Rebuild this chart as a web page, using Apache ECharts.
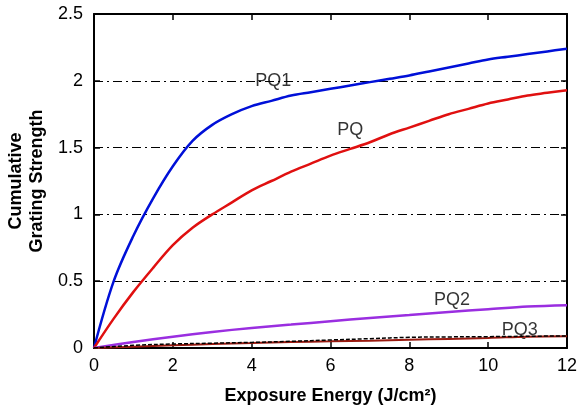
<!DOCTYPE html>
<html>
<head>
<meta charset="utf-8">
<script src="https://cdn.jsdelivr.net/npm/echarts@6/dist/echarts.min.js"></script>
<style>
  html, body { margin: 0; padding: 0; background: #fff; }
  #chart { width: 577px; height: 411px; }
</style>
</head>
<body>
<div id="chart"></div>
<script>
// exposure energy (J/cm2), read every 0.5 for the two steep curves
const xHalf = [0, 0.5, 1, 1.5, 2, 2.5, 3, 3.5, 4, 4.5, 5, 5.5, 6, 6.5, 7, 7.5, 8, 8.5, 9, 9.5, 10, 10.5, 11, 11.5, 12]
const yPQ1 = [0, 0.5, 0.84, 1.12, 1.36, 1.55, 1.67, 1.75, 1.81, 1.85, 1.89, 1.915, 1.94, 1.965, 1.99, 2.015, 2.04, 2.07, 2.1, 2.13, 2.16, 2.18, 2.2, 2.22, 2.24]
const yPQ = [0, 0.22, 0.42, 0.6, 0.77, 0.9, 1.0, 1.09, 1.18, 1.25, 1.32, 1.38, 1.44, 1.49, 1.54, 1.6, 1.65, 1.7, 1.75, 1.79, 1.83, 1.86, 1.89, 1.91, 1.93]

const xWhole = [0, 1, 2, 3, 4, 5, 6, 7, 8, 9, 10, 11, 12]
const yPQ2 = [0, 0.045, 0.085, 0.12, 0.15, 0.175, 0.2, 0.225, 0.247, 0.27, 0.29, 0.31, 0.32]
const yPQ3 = [0, 0.01, 0.02, 0.03, 0.037, 0.045, 0.05, 0.055, 0.062, 0.068, 0.075, 0.085, 0.088]
const yPQ3b = [0, 0.02, 0.03, 0.036, 0.042, 0.05, 0.06, 0.07, 0.08, 0.083, 0.085, 0.088, 0.09]

const labels = [
  { name: 'PQ1', x: 4.55, y: 2.0 },
  { name: 'PQ', x: 6.5, y: 1.63 },
  { name: 'PQ2', x: 9.08, y: 0.36 },
  { name: 'PQ3', x: 10.8, y: 0.135 }
]

const pairs = (xs, ys) => xs.map((x, i) => [x, ys[i]])
const font = 'Liberation Sans, Arial, sans-serif'

const frameAxis = {
  axisLine: { show: true, onZero: false, lineStyle: { color: '#000', width: 2 } },
  axisTick: { show: true, inside: true, length: 6, lineStyle: { color: '#000', width: 1.5 } }
}

const curve = (name, xs, ys, lineStyle) => ({
  name, type: 'line', smooth: 0.35, showSymbol: false,
  lineStyle, data: pairs(xs, ys)
})

const chart = echarts.init(document.getElementById('chart'))
chart.setOption({
  animation: false,
  grid: { left: 94, right: 10, top: 14, bottom: 63, outerBoundsMode: 'none', containLabel: false },
  xAxis: [
    Object.assign({
      type: 'value', min: 0, max: 12, interval: 2,
      name: 'Exposure Energy (J/cm²)', nameLocation: 'middle', nameGap: 39,
      nameTextStyle: { fontFamily: font, fontSize: 18, fontWeight: 'bold', color: '#000' },
      axisLabel: { fontFamily: font, fontSize: 18, color: '#000', margin: 9 },
      splitLine: { show: false }
    }, frameAxis),
    Object.assign({
      type: 'value', min: 0, max: 12, interval: 2, position: 'top',
      axisLabel: { show: false },
      splitLine: { show: false }
    }, frameAxis)
  ],
  yAxis: [
    Object.assign({
      type: 'value', min: 0, max: 2.5, interval: 0.5,
      name: 'Cumulative\nGrating Strength', nameLocation: 'middle', nameGap: 45,
      nameTextStyle: { fontFamily: font, fontSize: 18, fontWeight: 'bold', color: '#000', lineHeight: 21 },
      axisLabel: { fontFamily: font, fontSize: 18, color: '#000', margin: 11 },
      splitLine: { lineStyle: { color: '#000', width: 1, type: [9, 4, 2, 4] } }
    }, frameAxis),
    Object.assign({
      type: 'value', min: 0, max: 2.5, interval: 0.5, position: 'right',
      axisLabel: { show: false },
      splitLine: { show: false }
    }, frameAxis)
  ],
  series: [
    curve('PQ1', xHalf, yPQ1, { color: '#0010d8', width: 2.5 }),
    curve('PQ', xHalf, yPQ, { color: '#e01010', width: 2.5 }),
    curve('PQ2', xWhole, yPQ2, { color: '#9a2ee0', width: 2.5 }),
    curve('PQ3', xWhole, yPQ3, { color: '#9a1a10', width: 2 }),
    curve('PQ3b', xWhole, yPQ3b, { color: '#000', width: 1.5, type: [4, 2] }),
    {
      name: 'labels', type: 'scatter', symbolSize: 0,
      label: {
        show: true, position: 'inside', formatter: p => p.data.name,
        fontFamily: font, fontSize: 18, color: '#000'
      },
      data: labels.map(l => ({ name: l.name, value: [l.x, l.y] }))
    }
  ]
})
</script>
</body>
</html>
